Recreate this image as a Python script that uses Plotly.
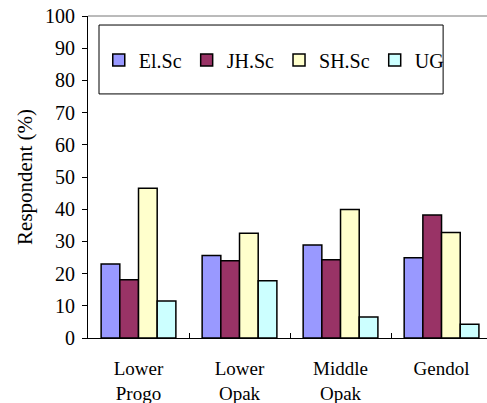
import plotly.graph_objects as go

categories = ["Lower<br>Progo", "Lower<br>Opak", "Middle<br>Opak", "Gendol"]
series_names = ["El.Sc", "JH.Sc", "SH.Sc", "UG"]
el_sc = [23.0, 25.6, 28.9, 24.9]
jh_sc = [18.1, 24.0, 24.3, 38.2]
sh_sc = [46.5, 32.5, 39.9, 32.8]
ug = [11.5, 17.8, 6.5, 4.3]
colors = ["#9999FF", "#993366", "#FFFFCC", "#CCFFFF"]
y_ticks = [0, 10, 20, 30, 40, 50, 60, 70, 80, 90, 100]

font = "Liberation Serif"

fig = go.Figure()
for name, vals, c in zip(series_names, [el_sc, jh_sc, sh_sc, ug], colors):
    fig.add_trace(go.Bar(
        x=categories, y=vals, name=name,
        marker=dict(color=c, line=dict(color="black", width=1.5)),
    ))

fig.update_layout(
    width=487, height=403,
    margin=dict(l=88, r=0, t=16, b=65, autoexpand=False),
    paper_bgcolor="white", plot_bgcolor="white",
    barmode="group", bargap=0.26, bargroupgap=0,
    font=dict(family=font, size=19, color="black"),
    showlegend=True,
    legend=dict(
        orientation="h", x=0.027, y=0.863, xanchor="left", yanchor="middle",
        bgcolor="rgba(0,0,0,0)", borderwidth=0,
        font=dict(family=font, size=20, color="black"),
        itemwidth=30, tracegroupgap=0,
    ),
    xaxis=dict(
        range=[-0.5, 3.45], type="category", tickson="boundaries",
        ticks="inside", ticklen=5, tickcolor="black",
        showline=True, linecolor="black", linewidth=1, mirror=False,
        showgrid=False, tickfont=dict(size=19), automargin=False,
        ticklabeloverflow="allow", ticklabelstandoff=13,
    ),
    yaxis=dict(
        range=[0, 100], tickvals=y_ticks, ticks="outside", ticklen=5,
        tickcolor="black", showline=True, linecolor="black", linewidth=1,
        showgrid=False, zeroline=False, tickfont=dict(size=20), automargin=False,
        ticklabeloverflow="allow", ticklabelstandoff=3,
        title=dict(text="Respondent (%)", font=dict(size=21), standoff=6),
    ),
    shapes=[
        dict(type="line", xref="paper", yref="paper", x0=0, x1=1, y0=1, y1=1,
             line=dict(color="#777777", width=1)),
        dict(type="rect", xref="paper", yref="paper", x0=0.0276, x1=0.890,
             y0=0.758, y1=0.972, fillcolor="white", line=dict(color="black", width=1),
             layer="below"),
    ],
)

fig.write_html("out.html", config={"displayModeBar": False},
               post_script="document.body.style.margin='0';")
